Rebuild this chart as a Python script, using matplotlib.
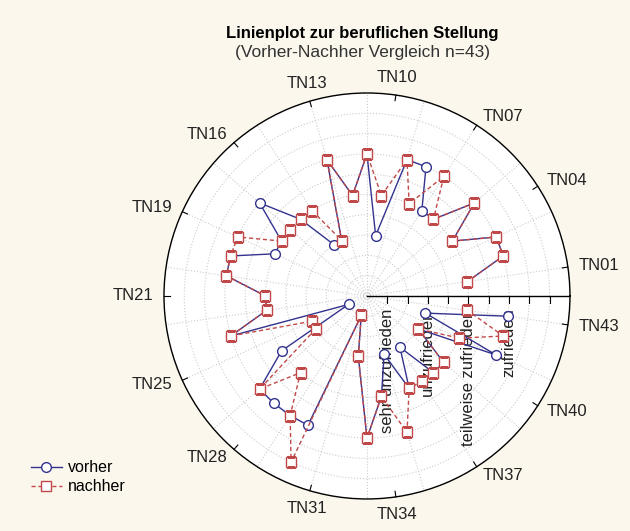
import numpy as np
import matplotlib.pyplot as plt
from matplotlib.lines import Line2D

plt.rcParams['font.family'] = ['Liberation Sans', 'DejaVu Sans']

# 43 participants, scale 1 = sehr unzufrieden ... 4 = zufrieden (5 = above)
n_slots = 44
vorher = [3, 4, 4, 3, 4, 3, 3, 4, 4, 2, 4, 3, 4, 2, 2, 3, 4, 3, 3, 4, 4, 3,
          3, 4, 1, 3, 4, 4, 4, 4, 1, 2, 4, 3, 2, 3, 2, 3, 3, 2, 4, 2, 4]
nachher = [3, 4, 4, 3, 4, 3, 4, 3, 4, 3, 4, 3, 4, 2, 3, 3, 3, 3, 4, 4, 4, 3,
           3, 4, 2, 2, 4, 3, 4, 5, 1, 2, 4, 3, 4, 3, 3, 3, 3, 2, 3, 4, 3]
tick_slots = [1, 4, 7, 10, 13, 16, 19, 22, 25, 28, 31, 34, 37, 40, 43]
tick_labels = ['TN01', 'TN04', 'TN07', 'TN10', 'TN13', 'TN16', 'TN19', 'TN21',
               'TN25', 'TN28', 'TN31', 'TN34', 'TN37', 'TN40', 'TN43']
scale_values = [1, 2, 3, 4]
scale_labels = ['sehr unzufrieden', 'unzufrieden', 'teilweise zufrieden', 'zufrieden']

bg = '#fbf7ec'
blue = '#33338f'
red = '#c04848'

fig = plt.figure(figsize=(6.3, 5.31), dpi=100, facecolor=bg)
ax = fig.add_axes([0.2603, 0.0603, 0.6444, 0.7646], projection='polar')
ax.set_facecolor('white')

step = 2 * np.pi / n_slots
theta = np.arange(1, len(vorher) + 1) * step

ax.set_ylim(0.5, 5.5)
ax.set_yticks(np.arange(0.5, 5.51, 0.5))
ax.set_yticklabels([])
ax.set_xticks(np.arange(1, n_slots, 2) * step)
ax.set_xticklabels([])
ax.grid(True, color='#cccccc', linestyle=':', linewidth=0.8)
ax.tick_params(axis='x', length=0)

# labelled ticks
gap = 7.5
for s, lab in zip(tick_slots, tick_labels):
    ang = s * step
    c, sn = np.cos(ang), np.sin(ang)
    ha = 'left' if c > 0.35 else ('right' if c < -0.35 else 'center')
    va = 'bottom' if sn > 0.9 else ('top' if sn < -0.9 else 'center')
    ax.plot([ang, ang], [5.36, 5.5], color='k', lw=0.8, clip_on=False)
    ax.annotate(lab, xy=(ang, 5.5), xytext=(c * gap, sn * gap),
                textcoords='offset points', ha=ha, va=va,
                fontsize=12, color='#222222', annotation_clip=False)

ax.spines['polar'].set_color('black')
ax.spines['polar'].set_linewidth(1.0)

# radial axis at 0 degrees
ax.plot([0, 0], [0.5, 5.5], color='k', lw=1.0)
ax.plot(np.zeros(10), np.arange(1.0, 5.51, 0.5), linestyle='none', marker=3,
        ms=5, color='k', mew=0.8)
for v, lab in zip(scale_values, scale_labels):
    ax.annotate(lab, xy=(0, v), xytext=(0, -9), textcoords='offset points',
                rotation=90, ha='center', va='top', fontsize=12, color='#222222')

ax.plot(theta, vorher, color=blue, lw=1.0, marker='o', ms=7,
        mfc='white', mec=blue, mew=1.0, zorder=3)
ax.plot(theta, nachher, color=red, lw=1.0, ls=(0, (3, 2)), marker='s', ms=7.5,
        mfc='white', mec=red, mew=1.0, zorder=4)

fig.text(0.575, 0.936, 'Linienplot zur beruflichen Stellung', ha='center',
         va='center', fontsize=12, fontweight='bold')
fig.text(0.575, 0.902, '(Vorher-Nachher Vergleich n=43)', ha='center',
         va='center', fontsize=12.5, color='#333333')

handles = [Line2D([], [], color=blue, lw=1.0, marker='o', ms=7, mfc='white', mec=blue),
           Line2D([], [], color=red, lw=1.0, ls=(0, (3, 2)), marker='s', ms=7.5,
                  mfc='white', mec=red)]
fig.legend(handles, ['vorher', 'nachher'], loc='upper left',
           bbox_to_anchor=(0.037, 0.148), frameon=False, fontsize=11.5,
           handlelength=1.9, handletextpad=0.4, labelspacing=0.25, borderpad=0)

fig.savefig('out.png', dpi=100, facecolor=bg)
